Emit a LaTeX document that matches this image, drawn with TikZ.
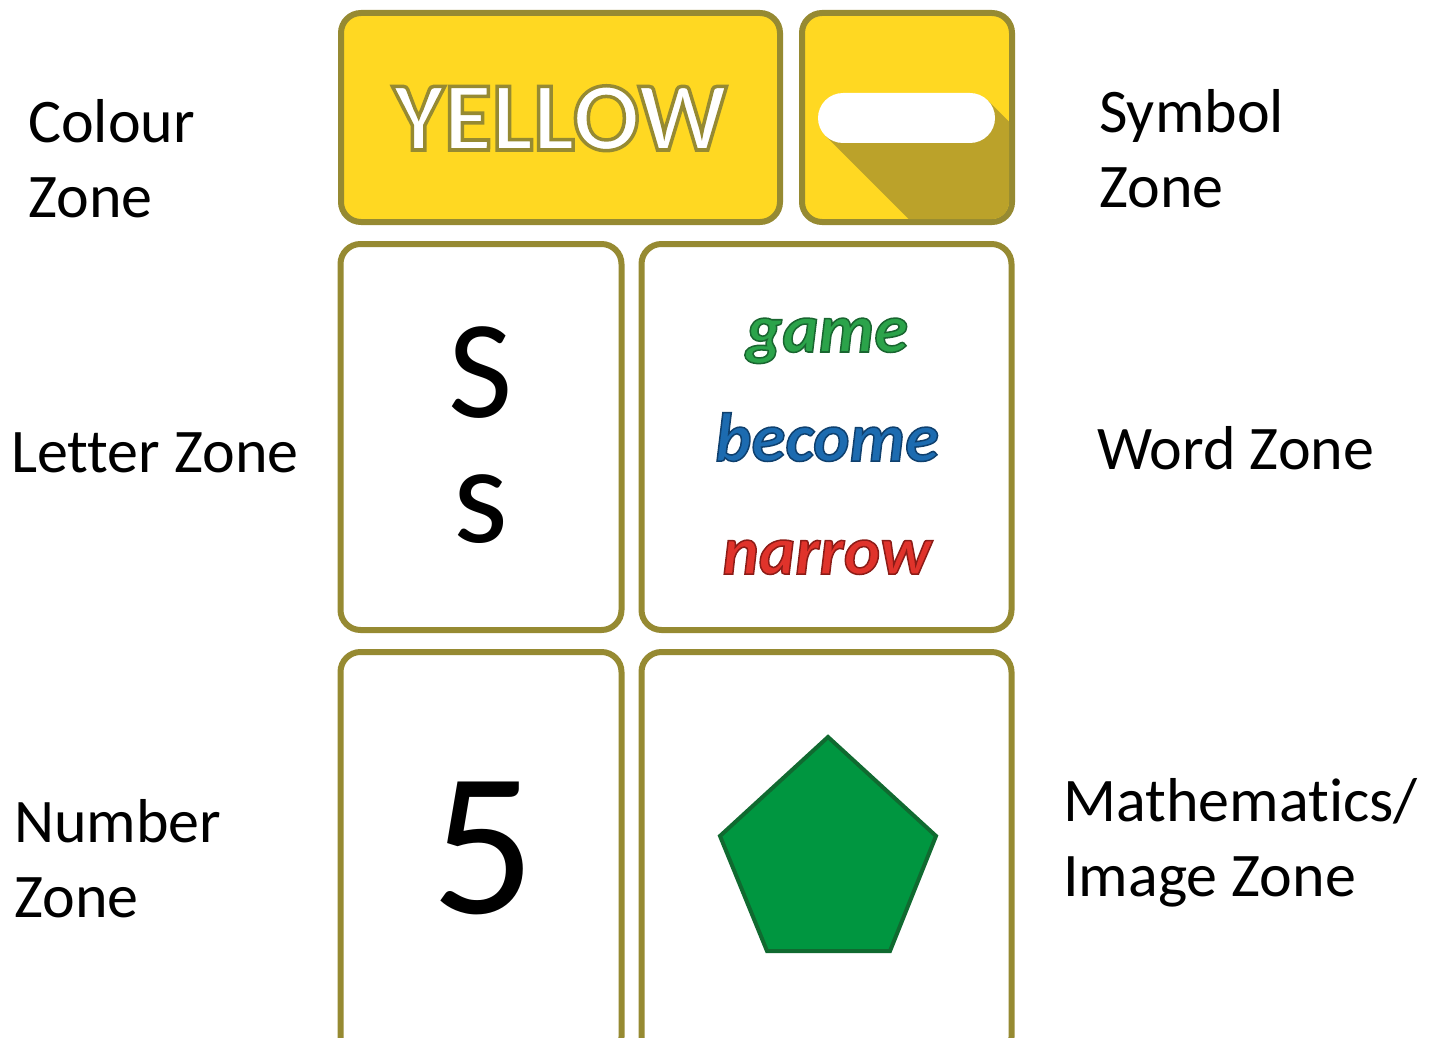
\documentclass[tikz,border=0pt]{standalone}
\usepackage{fontspec}
\setmainfont{Carlito}[Ligatures=NoCommon]
\usepackage{xcolor}
\definecolor{cardedge}{HTML}{968A32}
\definecolor{cardyellow}{HTML}{FFD822}
\definecolor{cardshadow}{HTML}{BBA22A}
\definecolor{wordgreen}{HTML}{2BA34A}
\definecolor{wordblue}{HTML}{1C6BB0}
\definecolor{wordred}{HTML}{E0332B}
\definecolor{shapegreen}{HTML}{009640}
\definecolor{shapegreendark}{HTML}{106A30}

% filled text with a stroked outline: width, stroke rgb, text
\newcommand{\outlined}[3]{\special{pdf:literal direct #1 w #2 RG 2 Tr}#3\special{pdf:literal direct 0 Tr}}

\tikzset{
  card/.style={draw=cardedge, line width=6pt, rounded corners=20pt, fill=white, inner sep=0pt},
  zonelabel/.style={anchor=base west, align=left, inner sep=0pt, font=\fontsize{62}{75}\selectfont},
  cardword/.style={anchor=base, inner sep=0pt, font=\fontsize{69}{69}\selectfont\bfseries\itshape},
}

\begin{document}
\begin{tikzpicture}[x=1pt,y=-1pt]
      \useasboundingbox (0,0) rectangle (1445,1038);
      \clip (0,0) rectangle (1445,1038);

      % Colour zone
      \node[card, fill=cardyellow, minimum width=439, minimum height=209] (colourcard) at (560.5,117.5) {};
      \node[anchor=base, inner sep=0pt, text=white, font=\fontsize{98}{98}\selectfont\bfseries] (colourword) at (560,150)
        {\outlined{3.5}{0.588 0.541 0.196}{YELLOW}};

      % Symbol zone
      \node[card, fill=cardyellow, minimum width=210, minimum height=209] (symbolcard) at (907,117.5) {};
      \begin{scope}
        \clip[rounded corners=17pt] (805,16) rectangle (1009,219);
        \fill[cardshadow] (825.3,135.7) -- (1125.3,435.7) -- (1287.7,400.3) -- (987.7,100.3) -- cycle;
      \end{scope}
      \fill[white, rounded corners=25pt] (818,93) rectangle (995,143);

      % Letter zone
      \node[card, minimum width=281, minimum height=386] (lettercard) at (481,437) {};
      \node[anchor=base, align=center, inner sep=0pt, font=\fontsize{140}{125}\selectfont] (letters) at (481,542) {S\\s};

      % Word zone
      \node[card, minimum width=370, minimum height=386] (wordcard) at (826.5,437) {};
      \node[cardword, text=wordgreen] (firstword) at (827,352) {\outlined{1.5}{0.10 0.40 0.19}{game}};
      \node[cardword, text=wordblue] (secondword) at (827,461) {\outlined{1.5}{0.06 0.25 0.43}{become}};
      \node[cardword, text=wordred] (thirdword) at (827,574) {\outlined{1.5}{0.55 0.11 0.09}{narrow}};

      % Number zone
      \node[card, minimum width=281, minimum height=405] (numbercard) at (481,854.5) {};
      \node[anchor=base, inner sep=0pt, font=\fontsize{205}{205}\selectfont] (digit) at (483,913) {5};

      % Mathematics / image zone
      \node[card, minimum width=370, minimum height=405] (imagecard) at (826.5,854.5) {};
      \draw[shapegreendark, fill=shapegreen, line width=4pt]
        (828,737) -- (936,836) -- (890,951) -- (767,951) -- (720,836) -- cycle;

      % Zone labels (base = last line)
      \node[zonelabel] (colourlabel) at (28,217) {Colour\\Zone};
      \node[zonelabel] (letterlabel) at (11,472) {Letter Zone};
      \node[zonelabel] (numberlabel) at (14,917) {Number\\Zone};
      \node[zonelabel] (symbollabel) at (1099,207) {Symbol\\Zone};
      \node[zonelabel] (wordlabel) at (1097,469) {Word Zone};
      \node[zonelabel] (imagelabel) at (1063,896) {Mathematics/\\Image Zone};
    \end{tikzpicture}
\end{document}
